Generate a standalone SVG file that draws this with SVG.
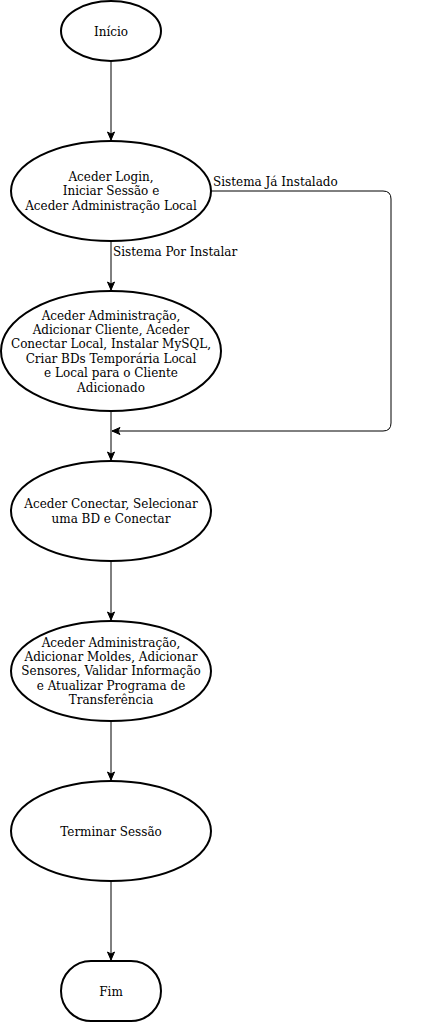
<svg xmlns="http://www.w3.org/2000/svg" width="422" height="1023" viewBox="0 0 422 1023">
<style>
.n{fill:#fff;stroke:#000;stroke-width:2}
.t{font-family:"DejaVu Serif",serif;font-size:12px;fill:#000;text-anchor:middle}
.l{font-family:"DejaVu Serif",serif;font-size:12px;fill:#000}
.e{fill:none;stroke:#000;stroke-width:1}
</style>
<defs>
<marker id="arr" markerUnits="userSpaceOnUse" markerWidth="10" markerHeight="10" viewBox="0 0 10 10" refX="9" refY="5" orient="auto">
<path d="M1,1.5 L9,5 L1,8.5 L3,5 z" fill="#000" stroke="#000" stroke-width="1"/>
</marker>
</defs>
<rect width="422" height="1023" fill="#fff"/>
<g id="connectors">
<line class="e" x1="111" y1="61" x2="111" y2="140" marker-end="url(#arr)"/>
<line class="e" x1="111" y1="241" x2="111" y2="290" marker-end="url(#arr)"/>
<line class="e" x1="111" y1="411" x2="111" y2="460" marker-end="url(#arr)"/>
<path class="e" d="M211,191 L383,191 Q391,191 391,199 L391,423 Q391,431 383,431 L112,431" marker-end="url(#arr)"/>
<line class="e" x1="111" y1="561" x2="111" y2="620" marker-end="url(#arr)"/>
<line class="e" x1="111" y1="721" x2="111" y2="780" marker-end="url(#arr)"/>
<line class="e" x1="111" y1="881" x2="111" y2="960" marker-end="url(#arr)"/>
<text class="l" x="213" y="186">Sistema Já Instalado</text>
<text class="l" x="113" y="256">Sistema Por Instalar</text>
</g>
<g id="inicio">
<ellipse class="n" cx="111" cy="31" rx="50" ry="30"/>
<text class="t" x="111" y="35.5">Início</text>
</g>
<g id="login">
<ellipse class="n" cx="111" cy="191" rx="100" ry="50"/>
<text class="t" x="111" y="181"><tspan x="111">Aceder Login,</tspan><tspan x="111" dy="14.4">Iniciar Sessão e</tspan><tspan x="111" dy="14.4">Aceder Administração Local</tspan></text>
</g>
<g id="instalar">
<ellipse class="n" cx="111" cy="351" rx="110" ry="60"/>
<text class="t" x="111" y="319.5"><tspan x="111">Aceder Administração,</tspan><tspan x="111" dy="14.4">Adicionar Cliente, Aceder</tspan><tspan x="111" dy="14.4">Conectar Local, Instalar MySQL,</tspan><tspan x="111" dy="14.4">Criar BDs Temporária Local</tspan><tspan x="111" dy="14.4">e Local para o Cliente</tspan><tspan x="111" dy="14.4">Adicionado</tspan></text>
</g>
<g id="conectar">
<ellipse class="n" cx="111" cy="511" rx="100" ry="50"/>
<text class="t" x="111" y="508"><tspan x="111">Aceder Conectar, Selecionar</tspan><tspan x="111" dy="15">uma BD e Conectar</tspan></text>
</g>
<g id="moldes">
<ellipse class="n" cx="111" cy="671" rx="100" ry="50"/>
<text class="t" x="111" y="646.5"><tspan x="111">Aceder Administração,</tspan><tspan x="111" dy="14.4">Adicionar Moldes, Adicionar</tspan><tspan x="111" dy="14.4">Sensores, Validar Informação</tspan><tspan x="111" dy="14.4">e Atualizar Programa de</tspan><tspan x="111" dy="14.4">Transferência</tspan></text>
</g>
<g id="terminar">
<ellipse class="n" cx="111" cy="831" rx="100" ry="50"/>
<text class="t" x="111" y="835.5">Terminar Sessão</text>
</g>
<g id="fim">
<rect class="n" x="61" y="961" width="100" height="60" rx="30" ry="30"/>
<text class="t" x="111" y="995.5">Fim</text>
</g>
</svg>
